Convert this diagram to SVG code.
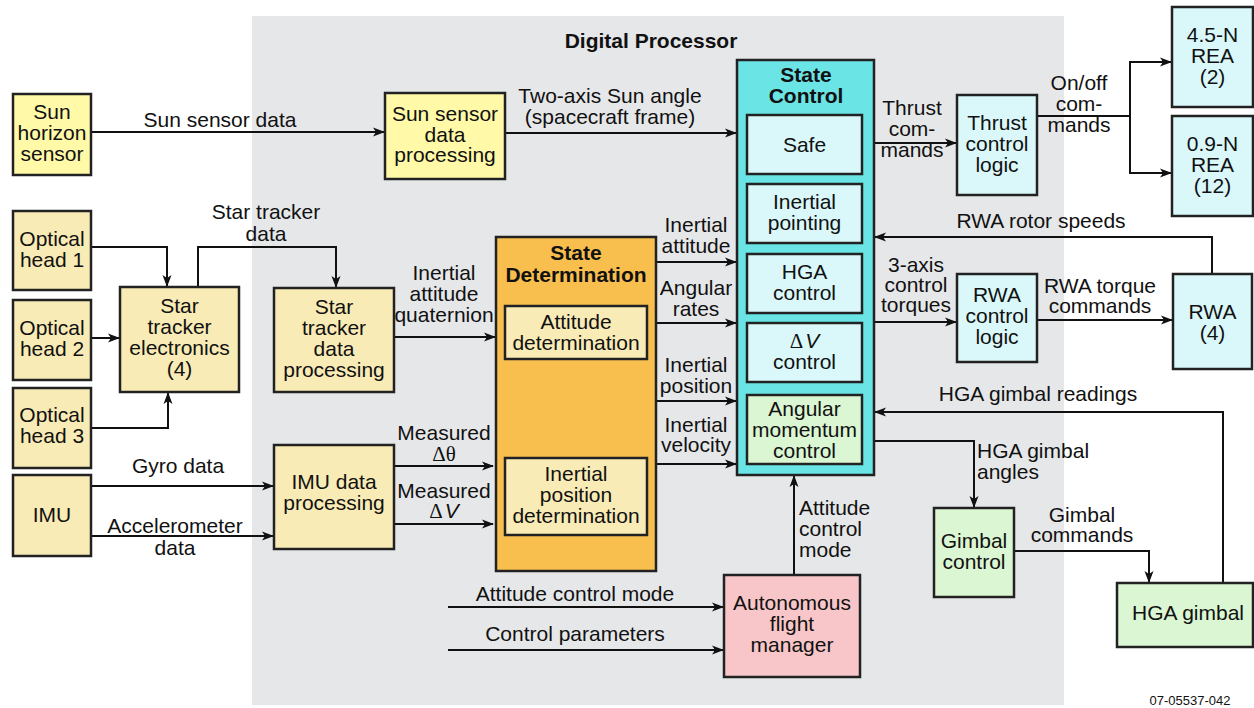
<svg xmlns="http://www.w3.org/2000/svg" width="1254" height="708" viewBox="0 0 1254 708">
<defs>
<marker id="ah" markerWidth="12" markerHeight="10" refX="11" refY="5" orient="auto" markerUnits="userSpaceOnUse">
<path d="M0,0.5 L12,5 L0,9.5 L3,5 z" fill="#111"/>
</marker>
<style>
text{font-family:"Liberation Sans",Arial,sans-serif;font-size:21px;fill:#111;text-anchor:middle}
.b{font-weight:bold}
.l{text-anchor:start}
.box{stroke:#222;stroke-width:2.5}
.y1{fill:#FFF9A8}
.y2{fill:#F9EBB5}
.or{fill:#F8BE4E}
.cy{fill:#6BE4E6}
.lc{fill:#DAF8FA}
.lg{fill:#DAF6D2}
.pk{fill:#F8C6C8}
.c{fill:none;stroke:#111;stroke-width:2}
.a{marker-end:url(#ah)}
.sm{font-size:13px}
.sf{font-family:"Liberation Serif","Times New Roman",serif}
</style>
</defs>
<rect width="1254" height="708" fill="#FFFFFF"/>
<rect id="digital-processor" x="252" y="16" width="812" height="689" fill="#E6E7E9"/>
<text class="b" x="651" y="48">Digital Processor</text>

<g id="connectors">
<path class="c a" d="M91,132 H384"/>
<path class="c a" d="M505,133 H736"/>
<path class="c a" d="M91,247 H167 V286"/>
<path class="c a" d="M91,338 H119"/>
<path class="c a" d="M91,428 H168 V393"/>
<path class="c a" d="M198,287 V247 H336 V287"/>
<path class="c a" d="M394,337 H495"/>
<path class="c a" d="M91,486 H273"/>
<path class="c a" d="M91,536 H273"/>
<path class="c a" d="M394,466 H493"/>
<path class="c a" d="M394,524 H493"/>
<path class="c a" d="M656,262 H736"/>
<path class="c a" d="M656,323 H736"/>
<path class="c a" d="M656,401 H736"/>
<path class="c a" d="M656,464 H736"/>
<path class="c a" d="M874,143 H956"/>
<path class="c" d="M1037,116 H1130"/>
<path class="c a" d="M1130,116 V62 H1171"/>
<path class="c a" d="M1130,116 V173 H1171"/>
<path class="c a" d="M1212,274 V237 H875"/>
<path class="c a" d="M874,322 H956"/>
<path class="c a" d="M1037,320 H1172"/>
<path class="c a" d="M1223,583 V412 H875"/>
<path class="c a" d="M874,441 H974 V507"/>
<path class="c a" d="M1014,551 H1149 V582"/>
<path class="c a" d="M794,575 V476"/>
<path class="c a" d="M448,607 H723"/>
<path class="c a" d="M448,650 H723"/>
</g>

<g id="labels">
<text x="220" y="127">Sun sensor data</text>
<text x="610" y="103">Two-axis Sun angle</text>
<text x="610" y="124">(spacecraft frame)</text>
<text x="266" y="219">Star tracker</text>
<text x="266" y="241">data</text>
<text x="444" y="280">Inertial</text>
<text x="444" y="301">attitude</text>
<text x="444" y="322">quaternion</text>
<text x="178" y="473">Gyro data</text>
<text x="175" y="533">Accelerometer</text>
<text x="175" y="555">data</text>
<text x="444" y="440">Measured</text>
<text x="444" y="461" class="sf">Δθ</text>
<text x="444" y="498">Measured</text>
<text x="444" y="518"><tspan class="sf">Δ</tspan><tspan font-style="italic" dx="2">V</tspan></text>
<text x="696" y="232">Inertial</text>
<text x="696" y="253">attitude</text>
<text x="696" y="295">Angular</text>
<text x="696" y="316">rates</text>
<text x="696" y="372">Inertial</text>
<text x="696" y="393">position</text>
<text x="696" y="432">Inertial</text>
<text x="696" y="452">velocity</text>
<text x="912" y="115">Thrust</text>
<text x="912" y="136">com-</text>
<text x="912" y="157">mands</text>
<text x="1079" y="90">On/off</text>
<text x="1079" y="111">com-</text>
<text x="1079" y="132">mands</text>
<text x="1041" y="228">RWA rotor speeds</text>
<text x="916" y="272">3-axis</text>
<text x="916" y="292">control</text>
<text x="916" y="312">torques</text>
<text x="1100" y="293">RWA torque</text>
<text x="1100" y="313">commands</text>
<text x="1038" y="401">HGA gimbal readings</text>
<text class="l" x="977" y="458">HGA gimbal</text>
<text class="l" x="977" y="479">angles</text>
<text x="1082" y="522">Gimbal</text>
<text x="1082" y="542">commands</text>
<text class="l" x="799" y="515">Attitude</text>
<text class="l" x="799" y="536">control</text>
<text class="l" x="799" y="557">mode</text>
<text x="575" y="601">Attitude control mode</text>
<text x="575" y="641">Control parameters</text>
<text class="sm" x="1190" y="705">07-05537-042</text>
</g>

<g id="sun-horizon-sensor">
<rect class="box y1" x="13" y="94" width="78" height="81"/>
<text x="52" y="119">Sun</text><text x="52" y="140">horizon</text><text x="52" y="161">sensor</text>
</g>
<g id="optical-head-1">
<rect class="box y2" x="13" y="211" width="78" height="79"/>
<text x="52" y="246">Optical</text><text x="52" y="267">head 1</text>
</g>
<g id="optical-head-2">
<rect class="box y2" x="13" y="300" width="78" height="80"/>
<text x="52" y="335">Optical</text><text x="52" y="356">head 2</text>
</g>
<g id="optical-head-3">
<rect class="box y2" x="13" y="388" width="78" height="80"/>
<text x="52" y="422">Optical</text><text x="52" y="443">head 3</text>
</g>
<g id="imu">
<rect class="box y2" x="13" y="475" width="78" height="81"/>
<text x="52" y="522">IMU</text>
</g>
<g id="star-tracker-electronics">
<rect class="box y2" x="120" y="287" width="119" height="105"/>
<text x="179.5" y="313">Star</text><text x="179.5" y="334">tracker</text><text x="179.5" y="355">electronics</text><text x="179.5" y="376">(4)</text>
</g>
<g id="sun-sensor-data-processing">
<rect class="box y1" x="385" y="93" width="120" height="86"/>
<text x="445" y="121">Sun sensor</text><text x="445" y="142">data</text><text x="445" y="162">processing</text>
</g>
<g id="star-tracker-data-processing">
<rect class="box y2" x="274" y="288" width="120" height="104"/>
<text x="334" y="314">Star</text><text x="334" y="335">tracker</text><text x="334" y="356">data</text><text x="334" y="377">processing</text>
</g>
<g id="imu-data-processing">
<rect class="box y2" x="274" y="445" width="120" height="104"/>
<text x="334" y="489">IMU data</text><text x="334" y="510">processing</text>
</g>
<g id="state-determination">
<rect class="box or" x="496" y="237" width="160" height="334"/>
<text class="b" x="576" y="260">State</text><text class="b" x="576" y="282">Determination</text>
<rect class="box y2" x="505" y="306" width="142" height="53"/>
<text x="576" y="329">Attitude</text><text x="576" y="350">determination</text>
<rect class="box y2" x="505" y="458" width="142" height="77"/>
<text x="576" y="481">Inertial</text><text x="576" y="502">position</text><text x="576" y="523">determination</text>
</g>
<g id="state-control">
<rect class="box cy" x="737" y="60" width="137" height="415"/>
<text class="b" x="806" y="82">State</text><text class="b" x="806" y="103">Control</text>
<rect class="box lc" x="747" y="115" width="115" height="59"/>
<text x="804.5" y="152">Safe</text>
<rect class="box lc" x="747" y="184" width="115" height="59"/>
<text x="804.5" y="209">Inertial</text><text x="804.5" y="230">pointing</text>
<rect class="box lc" x="747" y="254" width="115" height="59"/>
<text x="804.5" y="279">HGA</text><text x="804.5" y="300">control</text>
<rect class="box lc" x="747" y="323" width="115" height="59"/>
<text x="804.5" y="348"><tspan class="sf">Δ</tspan><tspan font-style="italic" dx="2">V</tspan></text><text x="804.5" y="369">control</text>
<rect class="box lg" x="747" y="395" width="115" height="69"/>
<text x="804.5" y="416">Angular</text><text x="804.5" y="437">momentum</text><text x="804.5" y="458">control</text>
</g>
<g id="thrust-control-logic">
<rect class="box lc" x="957" y="95" width="80" height="100"/>
<text x="997" y="130">Thrust</text><text x="997" y="151">control</text><text x="997" y="172">logic</text>
</g>
<g id="rea-4-5n">
<rect class="box lc" x="1172" y="7" width="81" height="100"/>
<text x="1212.5" y="42">4.5-N</text><text x="1212.5" y="63">REA</text><text x="1212.5" y="84">(2)</text>
</g>
<g id="rea-0-9n">
<rect class="box lc" x="1172" y="116" width="81" height="100"/>
<text x="1212.5" y="151">0.9-N</text><text x="1212.5" y="172">REA</text><text x="1212.5" y="193">(12)</text>
</g>
<g id="rwa-control-logic">
<rect class="box lc" x="957" y="274" width="80" height="88"/>
<text x="997" y="302">RWA</text><text x="997" y="323">control</text><text x="997" y="344">logic</text>
</g>
<g id="rwa">
<rect class="box lc" x="1173" y="274" width="79" height="95"/>
<text x="1212.5" y="319">RWA</text><text x="1212.5" y="340">(4)</text>
</g>
<g id="gimbal-control">
<rect class="box lg" x="934" y="508" width="80" height="89"/>
<text x="974" y="548">Gimbal</text><text x="974" y="569">control</text>
</g>
<g id="hga-gimbal">
<rect class="box lg" x="1117" y="583" width="136" height="64"/>
<text x="1188" y="620">HGA gimbal</text>
</g>
<g id="autonomous-flight-manager">
<rect class="box pk" x="724" y="575" width="136" height="102"/>
<text x="792" y="610">Autonomous</text><text x="792" y="631">flight</text><text x="792" y="652">manager</text>
</g>
</svg>
